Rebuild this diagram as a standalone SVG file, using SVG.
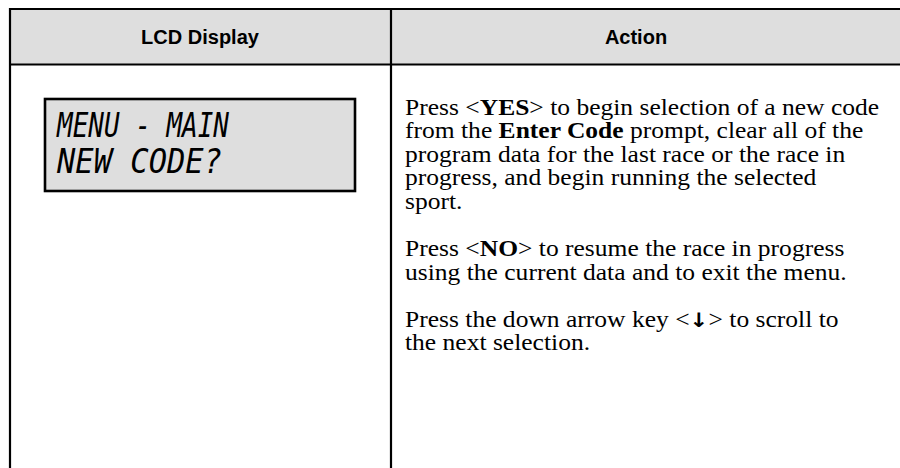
<svg xmlns="http://www.w3.org/2000/svg" width="900" height="468" viewBox="0 0 900 468">
  <style>
    .hdr { font-family: "Liberation Sans", Arial, sans-serif; font-weight: bold; font-size: 20px; fill: #000; text-anchor: middle; }
    .body { font-family: "Liberation Serif", "Times New Roman", serif; font-size: 22.6px; fill: #000; }
    .b { font-weight: bold; }
    .lcd { font-family: "DejaVu Sans Mono", monospace; font-style: oblique; font-size: 33px; fill: #000; }
    .rule { stroke: #000; stroke-width: 2.2; fill: none; }
  </style>
  <rect x="0" y="0" width="900" height="468" fill="#fff"/>
  <g id="table">
    <rect x="10" y="9" width="890" height="55.5" fill="#dedede"/>
    <line class="rule" x1="9" y1="9" x2="900" y2="9"/>
    <line class="rule" x1="9" y1="64.5" x2="900" y2="64.5"/>
    <line class="rule" x1="10" y1="8" x2="10" y2="468"/>
    <line class="rule" x1="391" y1="8" x2="391" y2="468"/>
  </g>
  <g id="header">
    <text class="hdr" x="200" y="44">LCD Display</text>
    <text class="hdr" x="636" y="44">Action</text>
  </g>
  <g id="lcd-display">
    <rect x="45" y="99" width="310" height="92" fill="#dedede" stroke="#000" stroke-width="2.6"/>
    <text class="lcd" x="57" y="137" textLength="172" lengthAdjust="spacingAndGlyphs">MENU - MAIN</text>
    <text class="lcd" x="57" y="173" textLength="165" lengthAdjust="spacingAndGlyphs">NEW CODE?</text>
  </g>
  <g id="action" transform="translate(405,0) scale(1.13,1)">
    <text class="body" x="0" y="115">Press &lt;<tspan class="b">YES</tspan>&gt; to begin selection of a new code</text>
    <text class="body" x="0" y="138.5">from the <tspan class="b">Enter Code</tspan> prompt, clear all of the</text>
    <text class="body" x="0" y="162">program data for the last race or the race in</text>
    <text class="body" x="0" y="185.5">progress, and begin running the selected</text>
    <text class="body" x="0" y="209">sport.</text>
    <text class="body" x="0" y="256.5">Press &lt;<tspan class="b">NO</tspan>&gt; to resume the race in progress</text>
    <text class="body" x="0" y="280">using the current data and to exit the menu.</text>
    <text class="body" x="0" y="327">Press the down arrow key &lt;<tspan class="b" font-family="DejaVu Sans, sans-serif" font-size="20">↓</tspan>&gt; to scroll to</text>
    <text class="body" x="0" y="350.5">the next selection.</text>
  </g>
</svg>
